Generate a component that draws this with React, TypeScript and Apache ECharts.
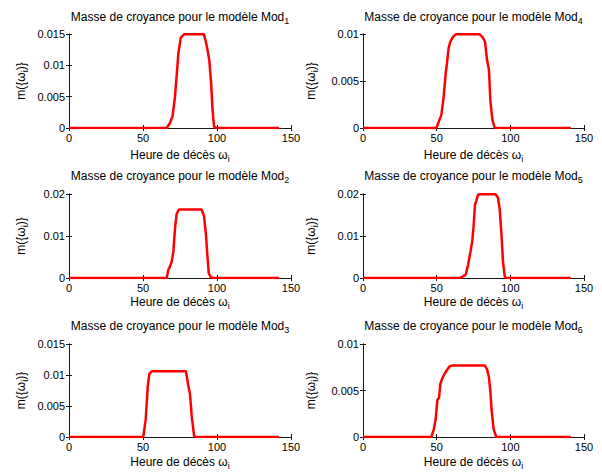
import React, { useEffect, useRef } from "react";
import * as echarts from "echarts";

type Pt = [number, number];

const mod1: Pt[] = [[0,0],[66,0],[68.2,0.0008],[70,0.0019],[71.6,0.005],[72.7,0.0082],[73.9,0.0119],[75.5,0.0144],[77.7,0.01495],[91.2,0.01495],[93,0.0132],[94.8,0.0108],[96,0.0072],[97,0.0029],[98,0.0002],[99.8,0],[142,0]];
const mod2: Pt[] = [[0,0],[66,0],[67.1,0.0019],[68.2,0.0027],[69.4,0.0039],[70.5,0.0062],[71.6,0.0117],[72.7,0.0152],[74.3,0.0163],[89.6,0.0163],[91.2,0.0148],[92.6,0.0101],[93.5,0.0054],[94.4,0.0012],[95.7,0.0002],[97.5,0],[142,0]];
const mod3: Pt[] = [[0,0],[50.2,0],[51.8,0.0028],[53.2,0.0081],[54.3,0.0102],[55.9,0.0106],[79,0.0106],[80.6,0.0083],[81.8,0.0068],[82.9,0.0034],[84.5,0.0002],[85.8,0],[142,0]];
const mod4: Pt[] = [[0,0],[49.8,0],[51.6,0.00074],[53.2,0.0014],[54.8,0.0034],[56.1,0.0058],[57,0.0069],[58.1,0.0085],[59.3,0.0092],[61.1,0.0097],[62.9,0.00997],[79.2,0.00997],[81,0.0097],[82.8,0.0092],[84.2,0.0072],[85.5,0.0062],[86.4,0.003],[87.8,0.0009],[89.4,0],[141,0]];
const mod5: Pt[] = [[0,0],[65.6,0],[67.9,0.0004],[69.7,0.0008],[71.3,0.0031],[72.9,0.0062],[74.2,0.0089],[75.1,0.0125],[76,0.0175],[76.9,0.0183],[78,0.0198],[79.2,0.01995],[90,0.01995],[91.6,0.0191],[92.8,0.0163],[93.9,0.0109],[95,0.0039],[96.2,0.0004],[97.3,0],[141,0]];
const mod6: Pt[] = [[0,0],[46.4,0],[48,0.0008],[49.3,0.0019],[50.5,0.004],[51.6,0.0042],[52.5,0.0057],[53.8,0.0063],[55.4,0.0068],[57,0.0072],[58.8,0.0076],[60.6,0.0077],[82.6,0.0077],[84.2,0.0073],[85.5,0.0064],[86.4,0.005],[87.3,0.0029],[88.7,0.0008],[90.5,0],[141,0]];

const modNames = ["1", "4", "2", "5", "3", "6"];
const seriesData = [mod1, mod4, mod2, mod5, mod3, mod6];
const yMax = [0.015, 0.01, 0.02, 0.02, 0.015, 0.01];
const yStep = [0.005, 0.005, 0.01, 0.01, 0.005, 0.005];

const FONT = "Liberation Sans, Arial, Helvetica, sans-serif";

// layout
const colLeft = [69, 363];
const colWidth = [222, 221];
const yLabelX = [21, 311];
const rowTop = [34, 194, 344];
const rowBottom = [128, 278, 437];
const titleY = [17, 176, 326];
const xLabelY = [155, 302, 462];

export default function App() {
  const ref = useRef<HTMLDivElement>(null);
  useEffect(() => {
    if (!ref.current) return;
    const chart = echarts.init(ref.current, undefined, { renderer: "svg" });
    const grids: any[] = [];
    const xAxes: any[] = [];
    const yAxes: any[] = [];
    const series: any[] = [];
    const graphics: any[] = [];
    const fmt = (v: number) => String(+v.toFixed(4));
    const rich = {
      n: { fontSize: 12, fontFamily: FONT, color: "#000", lineHeight: 16 },
      s: { fontSize: 9, fontFamily: FONT, color: "#000", lineHeight: 8, verticalAlign: "bottom" },
    };
    for (let i = 0; i < 6; i++) {
      const col = i % 2;
      const row = Math.floor(i / 2);
      const left = colLeft[col];
      const width = colWidth[col];
      const top = rowTop[row];
      const height = rowBottom[row] - top;
      grids.push({ left, top, width, height, containLabel: false, show: false });
      const axisLine = { show: true, lineStyle: { color: "#1a1a1a", width: 1 } };
      const axisTick = { show: true, inside: true, length: 3, lineStyle: { color: "#1a1a1a" } };
      xAxes.push({
        type: "value", gridIndex: i, min: 0, max: 150, interval: 50, position: "bottom",
        axisLine, axisTick, splitLine: { show: false },
        axisLabel: { show: true, margin: 4, color: "#000", fontSize: 11, fontFamily: FONT, formatter: fmt },
      });
      xAxes.push({
        type: "value", gridIndex: i, min: 0, max: 150, interval: 50, position: "top",
        axisLine, axisTick, splitLine: { show: false }, axisLabel: { show: false },
      });
      yAxes.push({
        type: "value", gridIndex: i, min: 0, max: yMax[i], interval: yStep[i], position: "left",
        axisLine, axisTick, splitLine: { show: false },
        axisLabel: { show: true, margin: 4, color: "#000", fontSize: 11, fontFamily: FONT, formatter: fmt },
      });
      yAxes.push({
        type: "value", gridIndex: i, min: 0, max: yMax[i], interval: yStep[i], position: "right",
        axisLine, axisTick, splitLine: { show: false }, axisLabel: { show: false },
      });
      series.push({
        type: "line", xAxisIndex: 2 * i, yAxisIndex: 2 * i, data: seriesData[i],
        showSymbol: false, symbol: "none", lineStyle: { color: "#ff0000", width: 2.5 },
        itemStyle: { color: "#ff0000" }, silent: true,
      });
      const cx = left + width / 2;
      graphics.push({
        type: "text", x: cx, y: titleY[row],
        style: { text: "{n|Masse de croyance pour le modèle Mod}{s|" + modNames[i] + "}", align: "center", verticalAlign: "middle", rich },
      });
      graphics.push({
        type: "text", x: cx, y: xLabelY[row],
        style: { text: "{n|Heure de décès ω}{s|i}", align: "center", verticalAlign: "middle", rich },
      });
      graphics.push({
        type: "text", x: yLabelX[col], y: top + height / 2, rotation: Math.PI / 2,
        style: { text: "{n|m({ω}{s|i}{n|})}", align: "center", verticalAlign: "middle", rich },
      });
    }
    chart.setOption({
      animation: false,
      backgroundColor: "#fff",
      grid: grids,
      xAxis: xAxes,
      yAxis: yAxes,
      series,
      graphic: graphics,
    });
    return () => chart.dispose();
  }, []);
  return (
    <div
      ref={ref}
      style={{ position: "absolute", left: 0, top: 0, width: 602, height: 472 }}
    />
  );
}
